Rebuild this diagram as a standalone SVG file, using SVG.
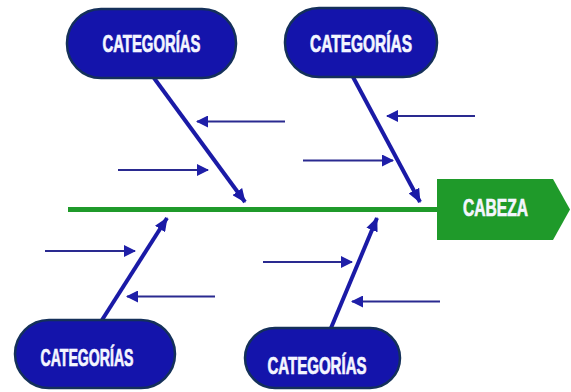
<svg xmlns="http://www.w3.org/2000/svg" width="571" height="392" viewBox="0 0 571 392">
  <style>
    .cat rect { fill: #1414ab; stroke: #14305a; stroke-width: 2.5; }
    .lbl { font-family: "Liberation Sans", Arial, sans-serif; font-weight: bold; font-size: 23px; fill: #f4f6ff; stroke: #f4f6ff; stroke-width: 0.7; }
    .bone { stroke: #1a1aa6; stroke-width: 4; fill: none; }
    .sub { stroke: #2a2a90; stroke-width: 2; fill: none; }
  </style>
  <defs>
    <marker id="bigHead" viewBox="0 0 14 12" refX="13" refY="6" markerWidth="14" markerHeight="12" markerUnits="userSpaceOnUse" orient="auto">
      <path d="M0,0 L14,6 L0,12 Z" fill="#1a1aa6"/>
    </marker>
    <marker id="smallHead" viewBox="0 0 12 12" refX="11" refY="6" markerWidth="12" markerHeight="12" markerUnits="userSpaceOnUse" orient="auto">
      <path d="M0,0 L12,6 L0,12 Z" fill="#1f1fa8"/>
    </marker>
  </defs>
  <rect width="571" height="392" fill="#ffffff"/>

  <!-- spine -->
  <g id="spine">
    <line x1="68" y1="209.5" x2="440" y2="209.5" stroke="#1f9a2a" stroke-width="5"/>
  </g>

  <!-- head -->
  <g id="cabeza">
    <path d="M437,179 L553,179 L570,209.5 L553,240 L437,240 Z" fill="#1f9a2a"/>
    <text class="lbl" x="495.5" y="215.5" text-anchor="middle" font-size="23" textLength="65" lengthAdjust="spacingAndGlyphs">CABEZA</text>
  </g>

  <!-- connectors -->
  <g id="connectors">
    <line class="bone" x1="154" y1="78" x2="245" y2="202" marker-end="url(#bigHead)"/>
    <line class="bone" x1="353" y1="77" x2="420" y2="202" marker-end="url(#bigHead)"/>
    <line class="bone" x1="102" y1="320" x2="167" y2="218" marker-end="url(#bigHead)"/>
    <line class="bone" x1="331" y1="328" x2="377" y2="218" marker-end="url(#bigHead)"/>

    <line class="sub" x1="285" y1="121.5" x2="197" y2="121.5" marker-end="url(#smallHead)"/>
    <line class="sub" x1="118" y1="170" x2="208" y2="170" marker-end="url(#smallHead)"/>
    <line class="sub" x1="475" y1="116" x2="387" y2="116" marker-end="url(#smallHead)"/>
    <line class="sub" x1="303" y1="160.5" x2="393" y2="160.5" marker-end="url(#smallHead)"/>
    <line class="sub" x1="45" y1="251" x2="135" y2="251" marker-end="url(#smallHead)"/>
    <line class="sub" x1="215" y1="296.5" x2="127" y2="296.5" marker-end="url(#smallHead)"/>
    <line class="sub" x1="263" y1="262" x2="352" y2="262" marker-end="url(#smallHead)"/>
    <line class="sub" x1="440" y1="301.5" x2="352" y2="301.5" marker-end="url(#smallHead)"/>
  </g>

  <!-- category nodes -->
  <g id="cat-top-left" class="cat">
    <rect x="67" y="9" width="169" height="69" rx="34"/>
    <text class="lbl" x="151.5" y="51.5" text-anchor="middle" textLength="98" lengthAdjust="spacingAndGlyphs">CATEGORÍAS</text>
  </g>
  <g id="cat-top-right" class="cat">
    <rect x="285" y="8" width="152" height="69" rx="34"/>
    <text class="lbl" x="361" y="51.5" text-anchor="middle" textLength="102" lengthAdjust="spacingAndGlyphs">CATEGORÍAS</text>
  </g>
  <g id="cat-bottom-left" class="cat">
    <rect x="15" y="320" width="160" height="68" rx="34"/>
    <text class="lbl" x="87" y="366" text-anchor="middle" textLength="93" lengthAdjust="spacingAndGlyphs">CATEGORÍAS</text>
  </g>
  <g id="cat-bottom-right" class="cat">
    <rect x="245" y="328" width="155" height="60" rx="30"/>
    <text class="lbl" x="317" y="374" text-anchor="middle" textLength="99" lengthAdjust="spacingAndGlyphs">CATEGORÍAS</text>
  </g>
</svg>
